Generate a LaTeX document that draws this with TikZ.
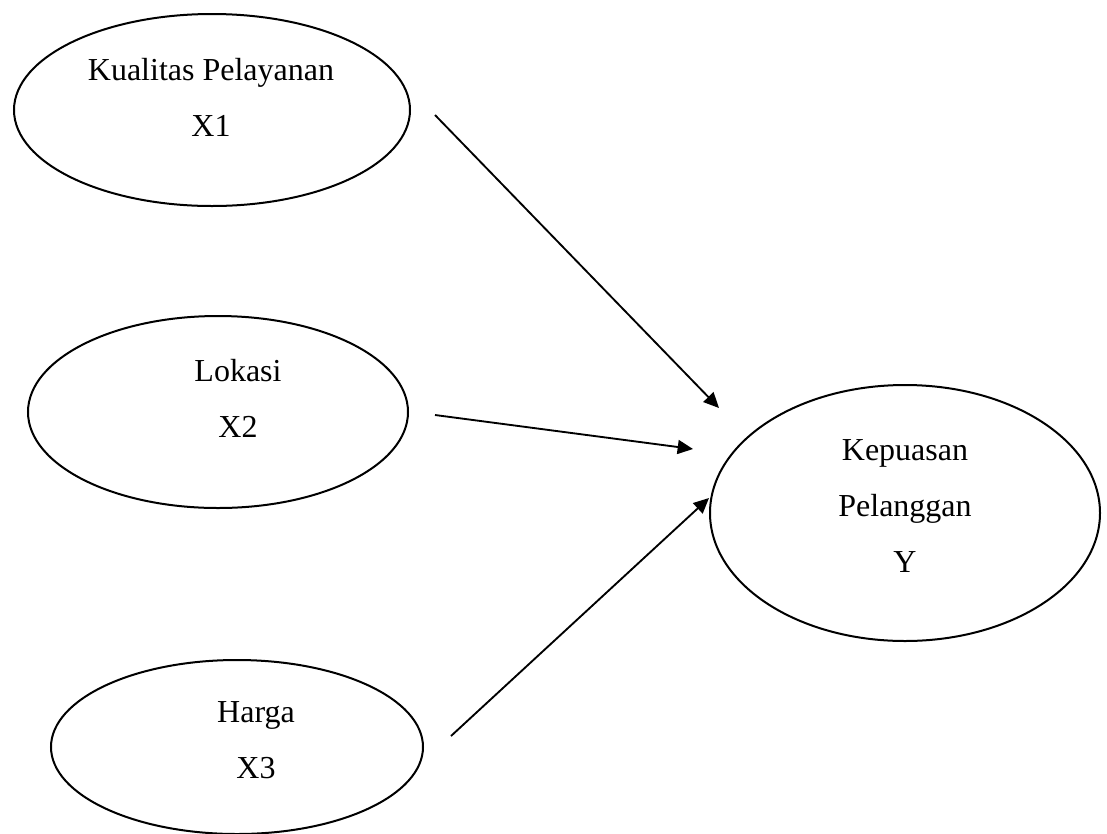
\documentclass[tikz,border=0pt]{standalone}
\usepackage{fontspec}
\setmainfont{Liberation Serif}
\usetikzlibrary{shapes.geometric,arrows.meta}
\tikzset{
  var/.style={draw,ellipse,line width=1.5pt,inner sep=0pt},
  lbl/.style={align=center,anchor=base,inner sep=0pt,font=\fontsize{24}{42}\selectfont},
  arr/.style={-{Triangle[length=11.5pt,width=10.5pt]},line width=1.4pt}
}
\begin{document}
\begin{tikzpicture}[x=0.75pt,y=-0.75pt]
      \useasboundingbox (0,0) rectangle (1107,833);
      \node [var,minimum width=297pt,minimum height=144pt] (x1) at (212,110) {};
      \node [var,minimum width=285pt,minimum height=144pt] (x2) at (218,412) {};
      \node [var,minimum width=279pt,minimum height=130.5pt] (x3) at (237,747) {};
      \node [var,minimum width=292.5pt,minimum height=192pt] (y) at (905,513) {};

      % base of a label = baseline of its last line
      \node [lbl] (x1txt) at (211,136) {Kualitas Pelayanan\\X1};
      \node [lbl] (x2txt) at (238,437) {Lokasi\\X2};
      \node [lbl] (x3txt) at (256,778) {Harga\\X3};
      \node [lbl] (ytxt) at (905,572) {Kepuasan\\Pelanggan\\Y};

      % arrow ends sit off the ellipses
      \coordinate (x1out) at (435,115);
      \coordinate (x2out) at (435,415);
      \coordinate (x3out) at (451,736);
      \coordinate (yin1) at (719,408);
      \coordinate (yin2) at (693,449);
      \coordinate (yin3) at (709,498);

      \draw [arr] (x1out) -- (yin1);
      \draw [arr] (x2out) -- (yin2);
      \draw [arr] (x3out) -- (yin3);
\end{tikzpicture}
\end{document}
